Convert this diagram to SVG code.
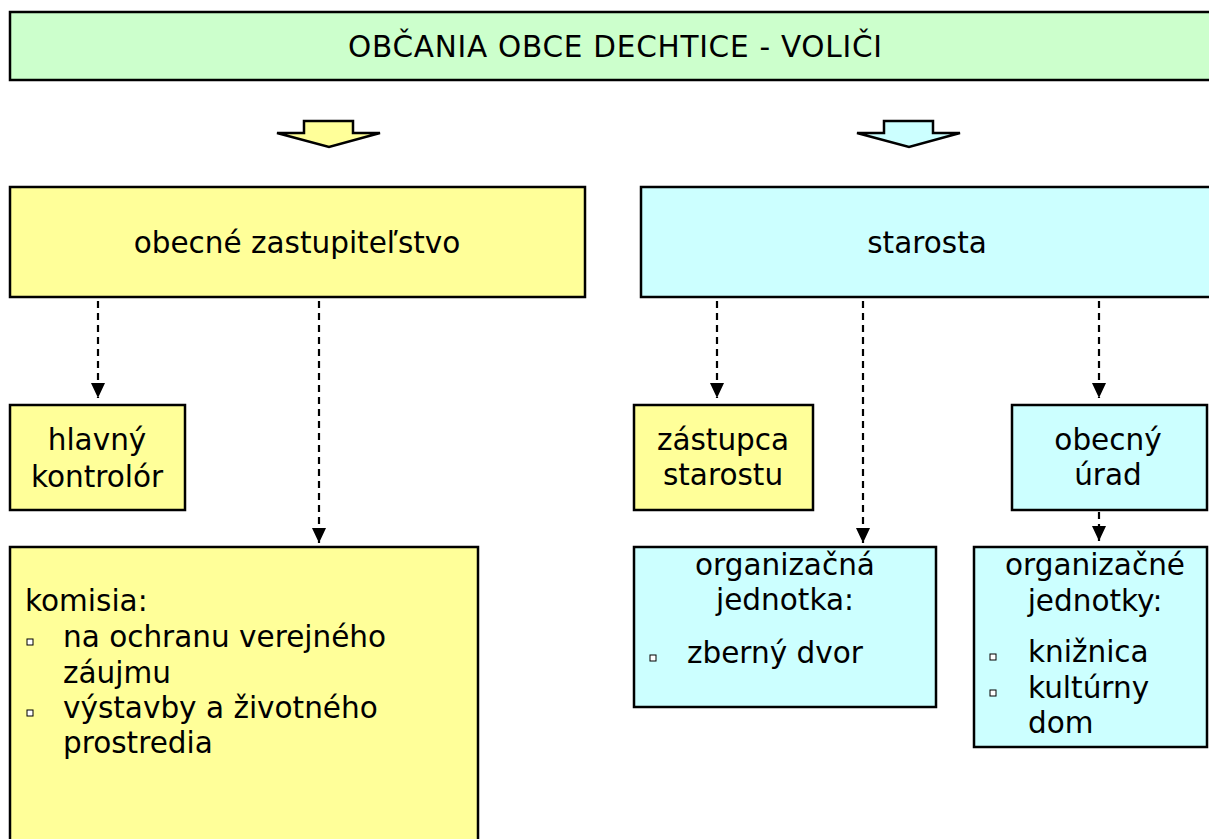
<svg xmlns="http://www.w3.org/2000/svg" width="1209" height="839" viewBox="0 0 1209 839">
<defs>
<style>
.box{stroke:#000;stroke-width:2.5}
.y{fill:#FFFF99}
.c{fill:#CCFFFF}
.g{fill:#CCFFCC}
text{font-family:"DejaVu Sans",Verdana,sans-serif;font-size:29.5px;fill:#000}
.m{text-anchor:middle}
.con{stroke:#000;stroke-width:2.2;stroke-dasharray:7 5;fill:none}
.bul{fill:#fff;stroke:#000;stroke-width:1}
</style>
<marker id="ah" viewBox="0 0 15 14" refX="15" refY="7" markerWidth="15" markerHeight="14" markerUnits="userSpaceOnUse" orient="auto">
<path d="M0,0 L15,7 L0,14 Z" fill="#000"/>
</marker>
</defs>
<rect width="1209" height="839" fill="#fff"/>
<g id="title">
<rect class="box g" x="10" y="12" width="1215" height="68"/>
<text class="m" x="615" y="57" textLength="534" lengthAdjust="spacing">OBČANIA OBCE DECHTICE - VOLIČI</text>
</g>
<g id="arrow-left">
<polygon class="box y" stroke-width="2" points="304,121 353,121 353,133 380,133 329,147 277,133 304,133"/>
</g>
<g id="arrow-right">
<polygon class="box c" stroke-width="2" points="884,121 933,121 933,133 960,133 909,147 857,133 884,133"/>
</g>
<g id="zastupitelstvo">
<rect class="box y" x="10" y="187" width="575" height="110"/>
<text class="m" x="297" y="253">obecné zastupiteľstvo</text>
</g>
<g id="starosta">
<rect class="box c" x="641" y="187" width="590" height="110"/>
<text class="m" x="927" y="253">starosta</text>
</g>
<g id="kontrolor">
<rect class="box y" x="10" y="405" width="175" height="105"/>
<text class="m" x="97" y="450">hlavný</text>
<text class="m" x="97" y="487">kontrolór</text>
</g>
<g id="komisia">
<rect class="box y" x="10" y="547" width="468" height="320"/>
<text x="25" y="611">komisia:</text>
<rect class="bul" x="27" y="639" width="6" height="6"/>
<text x="63" y="647">na ochranu verejného</text>
<text x="63" y="683">záujmu</text>
<rect class="bul" x="27" y="710" width="6" height="6"/>
<text x="63" y="718">výstavby a životného</text>
<text x="63" y="753">prostredia</text>
</g>
<g id="zastupca">
<rect class="box y" x="634" y="405" width="179" height="105"/>
<text class="m" x="723" y="450">zástupca</text>
<text class="m" x="723" y="485">starostu</text>
</g>
<g id="urad">
<rect class="box c" x="1012" y="405" width="195" height="105"/>
<text class="m" x="1108" y="450">obecný</text>
<text class="m" x="1108" y="485">úrad</text>
</g>
<g id="org-jednotka">
<rect class="box c" x="634" y="547" width="302" height="160"/>
<text class="m" x="785" y="575">organizačná</text>
<text class="m" x="785" y="610">jednotka:</text>
<rect class="bul" x="650" y="655" width="6" height="6"/>
<text x="687" y="663">zberný dvor</text>
</g>
<g id="org-jednotky">
<rect class="box c" x="974" y="547" width="233" height="200"/>
<text class="m" x="1095" y="575">organizačné</text>
<text class="m" x="1095" y="611">jednotky:</text>
<rect class="bul" x="990" y="654" width="6" height="6"/>
<text x="1028" y="662">knižnica</text>
<rect class="bul" x="990" y="690" width="6" height="6"/>
<text x="1028" y="698">kultúrny</text>
<text x="1028" y="733">dom</text>
</g>
<g id="connectors">
<line class="con" x1="98" y1="301" x2="98" y2="398" marker-end="url(#ah)"/>
<line class="con" x1="319" y1="301" x2="319" y2="543" marker-end="url(#ah)"/>
<line class="con" x1="717" y1="301" x2="717" y2="398" marker-end="url(#ah)"/>
<line class="con" x1="863" y1="301" x2="863" y2="543" marker-end="url(#ah)"/>
<line class="con" x1="1099" y1="301" x2="1099" y2="398" marker-end="url(#ah)"/>
<line class="con" x1="1099" y1="512" x2="1099" y2="541" marker-end="url(#ah)"/>
</g>
</svg>
